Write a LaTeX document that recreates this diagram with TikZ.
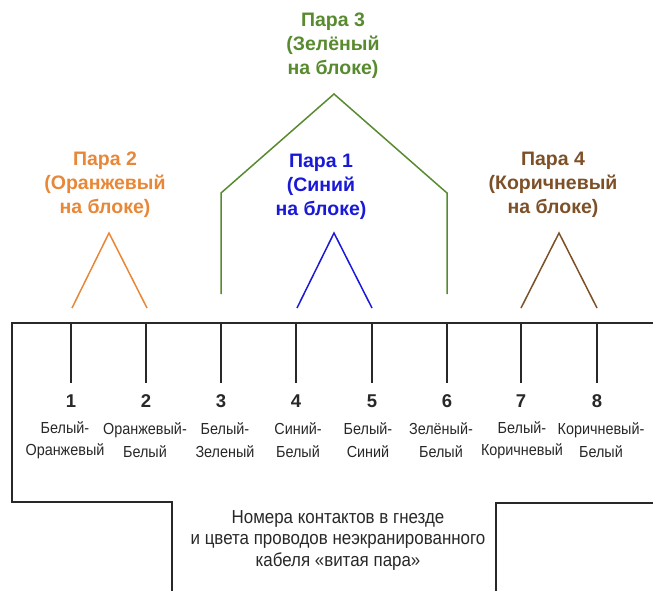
\documentclass[tikz,border=0pt]{standalone}
\usepackage{fontspec}
\setmainfont{Liberation Sans}
\newfontfamily\narrowfont[FakeStretch=0.9]{Liberation Sans}
\definecolor{porange}{RGB}{232,135,55}
\definecolor{pgreen}{RGB}{88,138,48}
\definecolor{pblue}{RGB}{25,25,215}
\definecolor{pbrown}{RGB}{125,80,40}
\definecolor{ink}{RGB}{40,40,40}
\begin{document}
\begin{tikzpicture}[x=1pt,y=-1pt,
  outline/.style={line width=2pt,draw=ink},
  pin/.style={line width=2pt,draw=ink},
  pairline/.style={line width=1.5pt},
  head/.style={font=\fontsize{19.5}{24}\selectfont\bfseries,align=center,inner sep=0pt},
  num/.style={font=\fontsize{18.5}{20}\selectfont\bfseries,inner sep=0pt,text=ink},
  lbl/.style={font=\narrowfont\fontsize{16}{22.5}\selectfont,align=center,inner sep=0pt,text=ink},
  capt/.style={font=\narrowfont\fontsize{18.8}{21.5}\selectfont,align=center,inner sep=0pt,text=ink}]
\useasboundingbox (0,0) rectangle (653,590);
% outline of the jack
\coordinate (tr) at (655,323);
\coordinate (tl) at (12,323);
\coordinate (bl) at (12,502);
\coordinate (sl) at (172,502);
\coordinate (sld) at (172,592);
\coordinate (srd) at (496,592);
\coordinate (sr) at (496,503);
\coordinate (br) at (655,503);
\draw[outline] (tr) -- (tl) -- (bl) -- (sl) -- (sld);
\draw[outline] (srd) -- (sr) -- (br);
% pins
\foreach \i/\x/\lx/\txt in {1/71/65/{Белый-\\Оранжевый},2/146/145/{Оранжевый-\\Белый},3/221/225/{Белый-\\Зеленый},4/296/298/{Синий-\\Белый},5/372/368/{Белый-\\Синий},6/447/441/{Зелёный-\\Белый},7/521/522/{Белый-\\Коричневый},8/597/601/{Коричневый-\\Белый}}{
  \coordinate (t\i) at (\x,323);
  \coordinate (b\i) at (\x,383);
  \draw[pin] (t\i) -- (b\i);
  \node[num] (n\i) at (\x,401) {\i};
  \node[lbl] (l\i) at (\lx,440) {\txt};
}
% pair 2 (orange)
\coordinate (oa) at (109,233);
\coordinate (ol) at (72,308);
\coordinate (or) at (147,308);
\draw[pairline,porange] (ol) -- (oa) -- (or);
\node[head,text=porange] (h2) at (105,185) {Пара 2\\(Оранжевый\\на блоке)};
% pair 3 (green)
\coordinate (gl) at (221,294);
\coordinate (glu) at (221,193);
\coordinate (ga) at (334,94);
\coordinate (gru) at (447,193);
\coordinate (gr) at (447,294);
\draw[pairline,pgreen] (gl) -- (glu) -- (ga) -- (gru) -- (gr);
\node[head,text=pgreen] (h3) at (333,46) {Пара 3\\(Зелёный\\на блоке)};
% pair 1 (blue)
\coordinate (ba) at (334,233);
\coordinate (bbl) at (297,308);
\coordinate (bbr) at (372,308);
\draw[pairline,pblue] (bbl) -- (ba) -- (bbr);
\node[head,text=pblue] (h1) at (321,187) {Пара 1\\(Синий\\на блоке)};
% pair 4 (brown)
\coordinate (wa) at (559,233);
\coordinate (wl) at (521,308);
\coordinate (wr) at (597,308);
\draw[pairline,pbrown] (wl) -- (wa) -- (wr);
\node[head,text=pbrown] (h4) at (553,185) {Пара 4\\(Коричневый\\на блоке)};
% caption
\node[capt] (cap) at (338,540) {Номера контактов в гнезде\\и цвета проводов неэкранированного\\кабеля «витая пара»};
\end{tikzpicture}
\end{document}
